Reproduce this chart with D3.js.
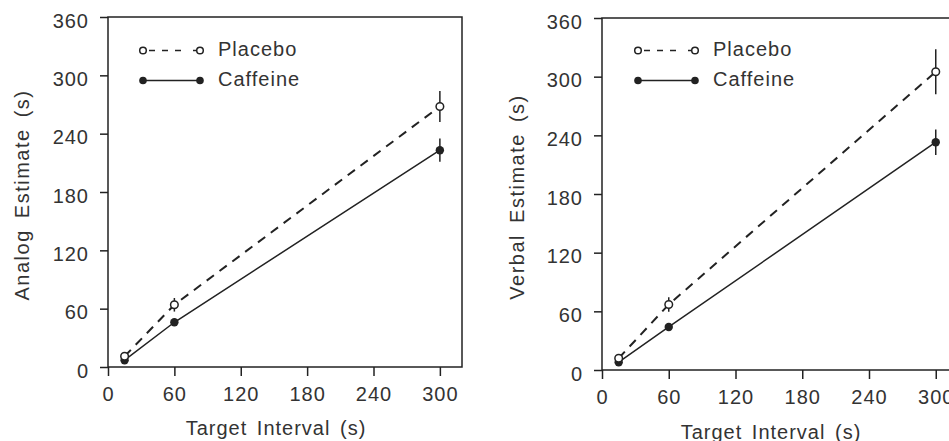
<!DOCTYPE html>
<html>
<head>
<meta charset="utf-8">
<script src="https://cdn.jsdelivr.net/npm/d3@7"></script>
<style>
  body { margin: 0; background: #fff; }
  text { font-family: "Liberation Sans", Arial, sans-serif; fill: #333; }
</style>
</head>
<body>
<div id="chart"></div>
<script>
// Data
const intervals = [15, 60, 300];
const xTicks = [0, 60, 120, 180, 240, 300];
const yTicks = [0, 60, 120, 180, 240, 300, 360];
const seriesNames = ["Placebo", "Caffeine"];

const analogPlacebo = [11, 64, 268];
const analogPlaceboErr = [2, 7, 16];
const analogCaffeine = [7, 46, 223];
const analogCaffeineErr = [1, 2, 12];

const verbalPlacebo = [12, 67, 305];
const verbalPlaceboErr = [2, 7.5, 23];
const verbalCaffeine = [8, 44, 233];
const verbalCaffeineErr = [1, 2, 13];

const ink = "#222";
const textInk = "#333";

const svg = d3.select("#chart")
  .append("svg")
  .attr("width", 949)
  .attr("height", 441);

// panel settings
const panels = [
  {ylabel: "Analog Estimate (s)", left: 108, right: 462, top: 17, bottom: 367,
   placebo: analogPlacebo, placeboErr: analogPlaceboErr,
   caffeine: analogCaffeine, caffeineErr: analogCaffeineErr,
   ylabX: 22, xlabY: 435, legX: 143},
  {ylabel: "Verbal Estimate (s)", left: 602, right: 958, top: 18, bottom: 370,
   placebo: verbalPlacebo, placeboErr: verbalPlaceboErr,
   caffeine: verbalCaffeine, caffeineErr: verbalCaffeineErr,
   ylabX: 517, xlabY: 439, legX: 638}
];

panels.forEach(function(p) {
  const x = d3.scaleLinear().domain([0, 320]).range([p.left, p.right]);
  const y = d3.scaleLinear().domain([0, 360]).range([p.bottom, p.top]);
  const g = svg.append("g");

  // frame
  g.append("rect")
    .attr("x", p.left).attr("y", p.top)
    .attr("width", p.right - p.left).attr("height", p.bottom - p.top)
    .attr("fill", "none").attr("stroke", ink).attr("stroke-width", 1.5);

  // axes
  const xAxis = g.append("g")
    .attr("transform", `translate(0,${p.bottom})`)
    .call(d3.axisBottom(x).tickValues(xTicks).tickSize(9).tickSizeOuter(0).tickPadding(11));
  const yAxis = g.append("g")
    .attr("transform", `translate(${p.left},0)`)
    .call(d3.axisLeft(y).tickValues(yTicks).tickSize(8).tickSizeOuter(0).tickPadding(11));

  [xAxis, yAxis].forEach(function(a) {
    a.select(".domain").remove();
    a.selectAll("line").attr("stroke", ink).attr("stroke-width", 1.5);
    a.selectAll("text")
      .style("font-size", "20px")
      .style("letter-spacing", "1px")
      .attr("fill", textInk);
  });
  yAxis.selectAll("text").attr("dy", "0.5em");

  // axis titles
  g.append("text")
    .attr("x", (p.left + p.right) / 2 - 9)
    .attr("y", p.xlabY)
    .attr("text-anchor", "middle")
    .style("font-size", "20px")
    .style("letter-spacing", "1px")
    .style("word-spacing", "3px")
    .text("Target Interval (s)");

  g.append("text")
    .attr("transform", `translate(${p.ylabX},${(p.top + p.bottom) / 2 + 3}) rotate(-90)`)
    .attr("text-anchor", "middle")
    .attr("dy", "0.36em")
    .style("font-size", "20px")
    .style("letter-spacing", "1.5px")
    .style("word-spacing", "4px")
    .text(p.ylabel);

  const line = d3.line().x((d, i) => x(intervals[i])).y(d => y(d));

  // lines
  g.append("path")
    .datum(p.placebo)
    .attr("d", line)
    .attr("fill", "none").attr("stroke", ink)
    .attr("stroke-width", 2).attr("stroke-dasharray", "9,7");
  g.append("path")
    .datum(p.caffeine)
    .attr("d", line)
    .attr("fill", "none").attr("stroke", ink)
    .attr("stroke-width", 1.5);

  // error bars
  [[p.placebo, p.placeboErr], [p.caffeine, p.caffeineErr]].forEach(function(s) {
    g.append("g").selectAll("line")
      .data(s[0])
      .join("line")
      .attr("x1", (d, i) => x(intervals[i]))
      .attr("x2", (d, i) => x(intervals[i]))
      .attr("y1", (d, i) => y(d - s[1][i]))
      .attr("y2", (d, i) => y(d + s[1][i]))
      .attr("stroke", ink).attr("stroke-width", 1.5);
  });

  // markers
  g.append("g").selectAll("circle")
    .data(p.caffeine)
    .join("circle")
    .attr("cx", (d, i) => x(intervals[i]))
    .attr("cy", d => y(d))
    .attr("r", 4.2)
    .attr("fill", ink);
  g.append("g").selectAll("circle")
    .data(p.placebo)
    .join("circle")
    .attr("cx", (d, i) => x(intervals[i]))
    .attr("cy", d => y(d))
    .attr("r", 3.8)
    .attr("fill", "#fff").attr("stroke", ink).attr("stroke-width", 1.5);

  // legend
  const leg = g.append("g").attr("transform", `translate(${p.legX},0)`);
  seriesNames.forEach(function(name, i) {
    const ly = 50.5 + i * 30;
    const row = leg.append("g");
    row.append("line")
      .attr("x1", 0).attr("x2", 57)
      .attr("y1", ly).attr("y2", ly)
      .attr("stroke", ink)
      .attr("stroke-width", 1.5)
      .attr("stroke-dasharray", i === 0 ? "0,6,6,7,6,7,6,6" : null);
    [0, 57].forEach(function(cx) {
      row.append("circle")
        .attr("cx", cx).attr("cy", ly)
        .attr("r", i === 0 ? 3.3 : 3.8)
        .attr("fill", i === 0 ? "#fff" : ink)
        .attr("stroke", ink)
        .attr("stroke-width", i === 0 ? 1.5 : 0);
    });
    row.append("text")
      .attr("x", 75)
      .attr("y", ly + 5)
      .style("font-size", "20px")
      .style("letter-spacing", "1px")
      .text(name);
  });
});
</script>
</body>
</html>
